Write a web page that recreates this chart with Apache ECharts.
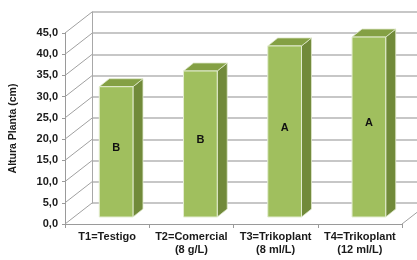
<!DOCTYPE html>
<html>
<head>
<meta charset="utf-8">
<script src="https://cdn.jsdelivr.net/npm/echarts@6/dist/echarts.min.js"></script>
<style>
  html, body { margin: 0; padding: 0; background: #fff; }
  #chart { width: 417px; height: 260px; }
</style>
</head>
<body>
<div id="chart"></div>
<script>
var categories = ['T1=Testigo', 'T2=Comercial\n(8 g/L)', 'T3=Trikoplant\n(8 ml/L)', 'T4=Trikoplant\n(12 ml/L)'];
var alturas = [30.7, 34.4, 40.3, 42.4];
var letras = ['B', 'B', 'A', 'A'];
var yTicks = [0, 5, 10, 15, 20, 25, 30, 35, 40, 45];

// desplazamiento de la pared del fondo (perspectiva 3D)
var DX = 27, DY = -21;

var myChart = echarts.init(document.getElementById('chart'));
var option = {
	animation: false,
	textStyle: {
		fontFamily: 'Liberation Sans'
	},
	grid: [
		{ left: 65, right: 15, top: 33, bottom: 36 },
		{ left: 65 + DX, right: 15 - DX, top: 33 + DY, bottom: 36 - DY }
	],
	xAxis: [
		{
			type: 'category',
			gridIndex: 0,
			data: categories,
			axisLine: { lineStyle: { color: '#9a9a9a', width: 1 } },
			axisTick: { show: true, length: 4, lineStyle: { color: '#9a9a9a' } },
			axisLabel: {
				color: '#1a1a1a',
				fontSize: 11,
				fontWeight: 'bold',
				margin: 6,
				lineHeight: 13,
				interval: 0
			}
		},
		{
			type: 'category',
			gridIndex: 1,
			data: categories,
			show: false
		}
	],
	yAxis: [
		{
			type: 'value',
			gridIndex: 0,
			min: 0,
			max: 45,
			interval: 5,
			name: 'Altura Planta (cm)',
			nameLocation: 'middle',
			nameGap: 46,
			nameTextStyle: { color: '#1a1a1a', fontSize: 10.5, fontWeight: 'bold' },
			axisLine: { show: true, lineStyle: { color: '#9a9a9a' } },
			axisTick: { show: true, length: 3, lineStyle: { color: '#9a9a9a' } },
			axisLabel: {
				color: '#1a1a1a',
				fontSize: 11,
				fontWeight: 'bold',
				margin: 7,
				formatter: function (v) { return v.toFixed(1).replace('.', ','); }
			},
			splitLine: { show: false }
		},
		{
			type: 'value',
			gridIndex: 1,
			min: 0,
			max: 45,
			interval: 5,
			axisLine: { show: true, lineStyle: { color: '#a8a8a8' } },
			axisTick: { show: false },
			axisLabel: { show: false },
			splitLine: { show: true, lineStyle: { color: '#b4b4b4', width: 1.5 } }
		}
	],
	series: [
		{
			// lineas de la pared lateral y del suelo
			type: 'custom',
			xAxisIndex: 0,
			yAxisIndex: 0,
			data: yTicks.map(function (v) { return [0, v]; }),
			silent: true,
			clip: false,
			z: 1,
			renderItem: function (params, api) {
				var cs = params.coordSys;
				var p = api.coord([0, api.value(1)]);
				var children = [{
					type: 'line',
					shape: { x1: cs.x, y1: p[1], x2: cs.x + DX, y2: p[1] + DY },
					style: { stroke: '#a0a0a0', lineWidth: 1 }
				}];
				if (api.value(1) === 0) {
					children.push({
						type: 'line',
						shape: { x1: cs.x + cs.width, y1: p[1], x2: cs.x + cs.width + DX, y2: p[1] + DY },
						style: { stroke: '#a0a0a0', lineWidth: 1 }
					});
				}
				return { type: 'group', children: children };
			}
		},
		{
			// barras 3D
			type: 'custom',
			xAxisIndex: 0,
			yAxisIndex: 0,
			data: alturas.map(function (v, i) { return [i, v]; }),
			clip: false,
			z: 3,
			renderItem: function (params, api) {
				var i = api.value(0);
				var top = api.coord([i, api.value(1)]);
				var base = api.coord([i, 0]);
				var w = api.size([1, 0])[0] * 0.4;
				var ox = DX / 3, oy = DY / 3;
				var x0 = top[0] - w / 2 + ox, x1 = top[0] + w / 2 + ox;
				var yt = top[1] + oy, yb = base[1] + oy;
				var dx = 10, dy = -8;
				return {
					type: 'group',
					children: [
						{
							type: 'polygon',
							shape: { points: [[x1, yb], [x1 + dx, yb + dy], [x1 + dx, yt + dy], [x1, yt]] },
							style: { fill: '#718a3a', stroke: '#dfe8cc', lineWidth: 0.8 }
						},
						{
							type: 'polygon',
							shape: { points: [[x0, yt], [x1, yt], [x1 + dx, yt + dy], [x0 + dx, yt + dy]] },
							style: { fill: '#84a044', stroke: '#dfe8cc', lineWidth: 0.8 }
						},
						{
							type: 'rect',
							shape: { x: x0, y: yt, width: w, height: yb - yt },
							style: { fill: '#a0bf5e', stroke: '#e4edd2', lineWidth: 1 }
						},
						{
							type: 'text',
							style: {
								text: letras[i],
								x: (x0 + x1) / 2,
								y: (yt + yb) / 2 - 4,
								align: 'center',
								verticalAlign: 'middle',
								fill: '#111',
								font: 'bold 11px "Liberation Sans"'
							}
						}
					]
				};
			}
		}
	]
};
myChart.setOption(option);
</script>
</body>
</html>
